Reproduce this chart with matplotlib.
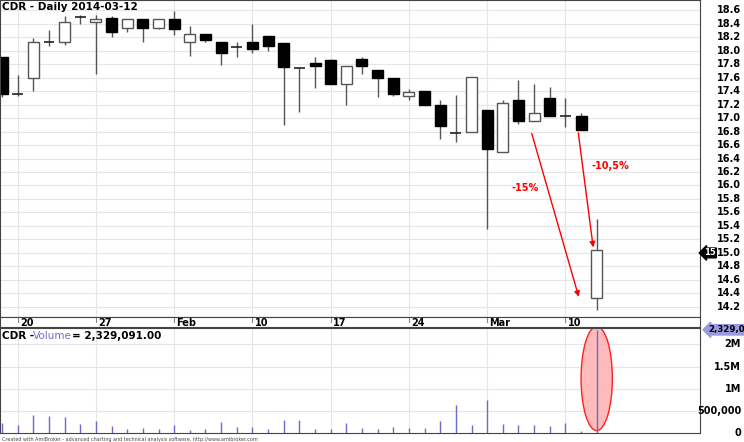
import matplotlib
matplotlib.use("Agg")
import matplotlib.pyplot as plt
from matplotlib.patches import Ellipse
import numpy as np

opens  = [17.90,17.35,17.60,18.12,18.12,18.50,18.43,18.48,18.33,18.47,18.34,18.47,18.12,18.24,18.13,18.06,18.12,18.21,18.11,17.74,
          17.81,17.86,17.50,17.87,17.71,17.59,17.33,17.40,17.19,16.78,16.79,17.12,16.49,17.27,16.95,17.29,17.03,17.03,14.33]
closes = [17.36,17.35,18.12,18.13,18.43,18.50,18.47,18.27,18.47,18.34,18.47,18.32,18.24,18.16,17.96,18.06,18.02,18.07,17.75,17.74,
          17.77,17.50,17.77,17.77,17.59,17.35,17.39,17.19,16.88,16.78,17.61,16.54,17.22,16.95,17.08,17.03,17.03,16.82,15.04]
highs  = [17.90,17.64,18.19,18.30,18.51,18.53,18.53,18.51,18.47,18.47,18.47,18.58,18.36,18.24,18.13,18.13,18.40,18.21,18.11,17.74,
          17.91,17.87,17.77,17.91,17.71,17.59,17.43,17.40,17.26,17.34,17.61,17.12,17.26,17.57,17.50,17.46,17.29,17.08,15.50]
lows   = [17.31,17.33,17.40,18.07,18.09,18.39,17.66,18.20,18.28,18.13,18.32,18.23,17.92,18.13,17.78,17.91,17.97,17.99,16.89,17.09,
          17.45,17.50,17.20,17.65,17.31,17.32,17.26,17.19,16.69,16.65,16.79,15.36,16.49,16.91,16.95,17.03,16.86,16.82,14.16]
volumes = [0.23,0.19,0.41,0.39,0.36,0.21,0.28,0.15,0.08,0.11,0.08,0.18,0.06,0.10,0.25,0.13,0.13,0.08,0.30,0.30,
           0.08,0.09,0.22,0.11,0.08,0.13,0.11,0.11,0.26,0.63,0.18,0.74,0.21,0.19,0.19,0.16,0.23,0.04,2.329091]
volumes = [v*1e6 for v in volumes]
date_ticks = [1,6,11,16,21,26,31,36]
date_labels = ["20","27","Feb","10","17","24","Mar","10"]
price_ticks = [round(14.2+0.2*i,1) for i in range(23)]
vol_ticks = [0, 0.5e6, 1e6, 1.5e6, 2e6]
vol_labels = ["0", "500,000", "1M", "1.5M", "2M"]

W,H = 744,442
fig = plt.figure(figsize=(7.44,4.42), dpi=100)
XL = (-0.13, 44.6)
axp = fig.add_axes([0, 1-317/H, 700/W, 317/H])
axd = fig.add_axes([0, 1-327/H, 700/W, 10/H])
axv = fig.add_axes([0, 1-433/H, 700/W, 105/H])

x = np.arange(len(opens))
bw = 0.7
gridc = "#e6e6e6"
for t in price_ticks:
    axp.axhline(t, color=gridc, lw=0.8, zorder=0)
for t in date_ticks:
    axp.axvline(t, color=gridc, lw=0.8, zorder=0)
    axv.axvline(t, color=gridc, lw=0.8, zorder=0)
axp.vlines(x, lows, highs, color="#555555", lw=1, zorder=1)
for i in x:
    o,c = opens[i], closes[i]
    if abs(o-c) < 0.02:
        axp.hlines(o, i-bw/2, i+bw/2, color="#222222", lw=1.2, zorder=2)
    else:
        black = c < o
        axp.bar(i, abs(c-o), bottom=min(o,c), width=bw,
                color="black" if black else "white", edgecolor="black" if black else "#555555", lw=1, zorder=2)
YL = (14.05, 18.75)
axp.set_xlim(*XL); axp.set_ylim(*YL)
axp.set_xticks([]); axp.set_yticks([])
axp.text(0.003, 0.995, "CDR - Daily 2014-03-12", transform=axp.transAxes, va="top", ha="left", fontsize=7.5, fontweight="bold")
ar = dict(arrowstyle="-|>", color="red", lw=1, mutation_scale=8)
axp.annotate("", xy=(36.9,14.31), xytext=(33.8,16.81), arrowprops=ar)
axp.annotate("", xy=(37.8,15.04), xytext=(36.8,16.82), arrowprops=ar)
axp.text(33.4, 15.92, "-15%", color="red", fontsize=7, fontweight="bold", ha="center")
axp.text(38.9, 16.25, "-10,5%", color="red", fontsize=7, fontweight="bold", ha="center")
for t in price_ticks:
    fig.text(741/W, 1-(317-(t-YL[0])/(YL[1]-YL[0])*317)/H, f"{t:.1f}", va="center", ha="right", fontsize=7, fontweight="bold")
fy = (15.0-YL[0])/(YL[1]-YL[0])
axp.annotate("15", xy=(1.0, fy), xycoords="axes fraction", xytext=(1.006, fy), fontsize=6, fontweight="bold",
             color="white", va="center", ha="left", bbox=dict(boxstyle="larrow,pad=0.05", fc="black", ec="black"))
axd.set_xlim(*XL); axd.set_ylim(0,1); axd.set_yticks([]); axd.set_xticks([])
for t,l in zip(date_ticks, date_labels):
    axd.plot([t,t],[0.55,1],color="#888888",lw=0.8)
    axd.text(t+0.15, 0.45, l, fontsize=7, fontweight="bold", va="center", ha="left")
for s in axd.spines.values(): s.set_color("#444444")
VT = 2.37e6
for t in vol_ticks[1:]:
    axv.axhline(t, color=gridc, lw=0.8, zorder=0)
axv.vlines(x, 0, volumes, color="#6a6ad0", lw=1, zorder=2)
axv.add_patch(Ellipse((38, 1.23e6), 2.0, 2.35e6, fc="#ffb0b0", ec="red", lw=1, alpha=0.85, zorder=1))
axv.set_xlim(*XL); axv.set_ylim(0, VT); axv.set_xticks([]); axv.set_yticks([])
vy = 1-331/H
fig.text(2/W, vy, "CDR -", va="top", fontsize=7.5, fontweight="bold")
fig.text(33/W, vy, "Volume", va="top", fontsize=7.5, color="#7070cc")
fig.text(72/W, vy, "= 2,329,091.00", va="top", fontsize=7.5, fontweight="bold")
for v,l in zip(vol_ticks, vol_labels):
    fig.text(741/W, 1-(433-v/VT*105)/H, l, va="center", ha="right", fontsize=7, fontweight="bold")
axv.annotate("2,329,09", xy=(1.0, 2.329091e6/VT), xycoords="axes fraction", xytext=(1.012, 2.329091e6/VT), fontsize=6.2, fontweight="bold",
             color="black", va="center", ha="left", bbox=dict(boxstyle="larrow,pad=0.08", fc="#9a9ae0", ec="#9a9ae0"))
for ax in (axp, axv):
    for s in ax.spines.values(): s.set_color("#444444")
fig.text(0.003, 0.003, "Created with AmiBroker - advanced charting and technical analysis software. http://www.amibroker.com", fontsize=3.5, color="#444444")
fig.savefig("out.png", dpi=100)
